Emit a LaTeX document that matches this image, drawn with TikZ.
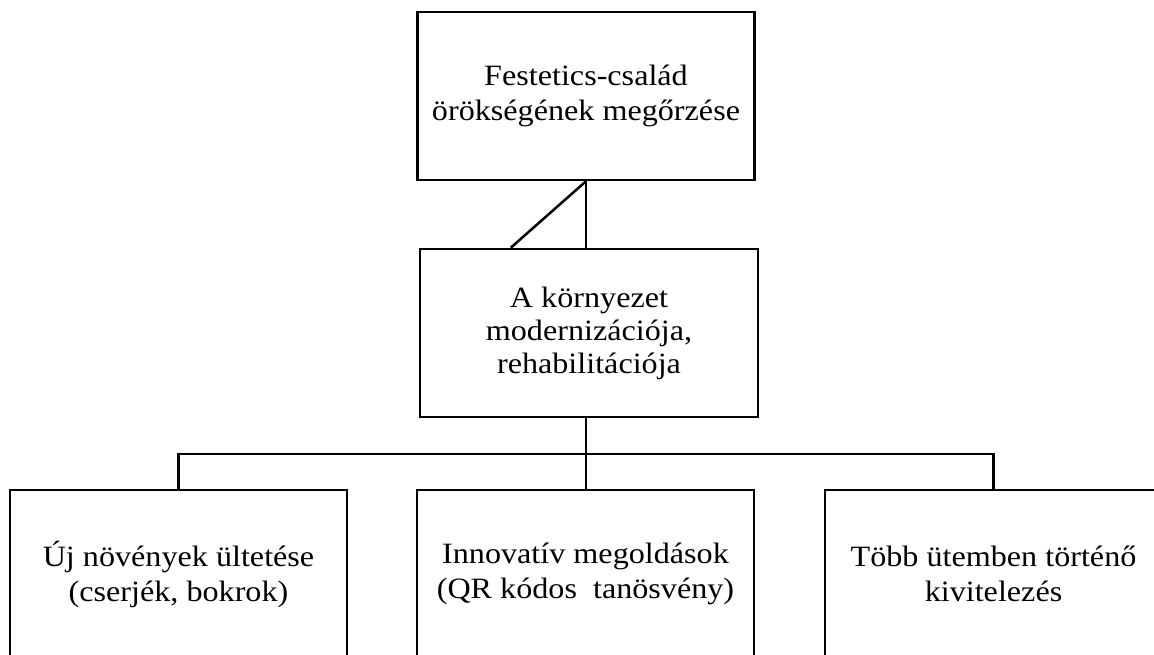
\documentclass[tikz,border=0pt]{standalone}
\usepackage{fontspec}
\setmainfont{Liberation Serif}[FakeStretch=1.09]
\begin{document}
\begin{tikzpicture}[x=1pt,y=-1pt,
  box/.style={draw, line width=2.5pt, minimum width=337pt, minimum height=168pt,
    inner sep=0pt, align=center, font=\fontsize{29.5}{35}\selectfont},
  wire/.style={line width=2.5pt}]
\useasboundingbox (0,0) rectangle (1154,655);
\clip (0,0) rectangle (1154,655);
% boxes
\node[box] (root) at (586,96) {Festetics-család\\örökségének megőrzése};
\node[box, minimum width=338pt, font=\fontsize{29.5}{33}\selectfont] (mid) at (589,333) {A környezet\\modernizációja,\\rehabilitációja};
\node[box] (left) at (178.5,574) {Új növények ültetése\\(cserjék, bokrok)};
\node[box] (centre) at (585.5,574) {Innovatív megoldások\\(QR kódos\ \ tanösvény)};
\node[box] (right) at (993.5,574) {Több ütemben történő\\kivitelezés};
% connectors
\coordinate (bar) at (586,454);
\draw[wire] (root.south) -- (root.south |- mid.north);
\draw[wire] (root.south) -- ([xshift=92pt]mid.north west);
\draw[wire] (mid.south -| bar) -- (centre.north -| bar);
\draw[wire] (left.north) |- (bar) -| (right.north);
\end{tikzpicture}
\end{document}
